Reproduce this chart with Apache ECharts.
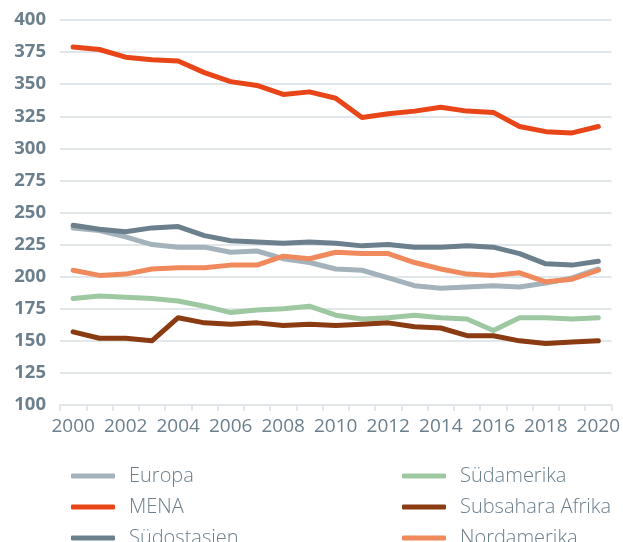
<!DOCTYPE html>
<html>
<head>
<meta charset="utf-8">
<script src="https://cdn.jsdelivr.net/npm/echarts@6/dist/echarts.min.js"></script>
<style>
  html, body { margin: 0; padding: 0; background: #ffffff; }
  #chart { width: 623px; height: 542px; }
</style>
</head>
<body>
<div id="chart"></div>
<script>
  // Jahre
  var years = ['2000','2001','2002','2003','2004','2005','2006','2007','2008','2009','2010',
               '2011','2012','2013','2014','2015','2016','2017','2018','2019','2020'];

  var europa      = [238, 236, 231, 225, 223, 223, 219, 220, 214, 211, 206, 205, 199, 193, 191, 192, 193, 192, 195, 199, 206];
  var mena        = [379, 377, 371, 369, 368, 359, 352, 349, 342, 344, 339, 324, 327, 329, 332, 329, 328, 317, 313, 312, 317];
  var suedostasien= [240, 237, 235, 238, 239, 232, 228, 227, 226, 227, 226, 224, 225, 223, 223, 224, 223, 218, 210, 209, 212];
  var suedamerika = [183, 185, 184, 183, 181, 177, 172, 174, 175, 177, 170, 167, 168, 170, 168, 167, 158, 168, 168, 167, 168];
  var subsahara   = [157, 152, 152, 150, 168, 164, 163, 164, 162, 163, 162, 163, 164, 161, 160, 154, 154, 150, 148, 149, 150];
  var nordamerika = [205, 201, 202, 206, 207, 207, 209, 209, 216, 214, 219, 218, 218, 211, 206, 202, 201, 203, 196, 198, 205];

  var textColor = '#6b7f8c';
  var gridColor = '#e2e7eb';

  var chart = echarts.init(document.getElementById('chart'));

  function line(name, data, color) {
    return {
      name: name,
      type: 'line',
      data: data,
      symbol: 'none',
      lineStyle: { width: 5, color: color, cap: 'round', join: 'round' },
      itemStyle: { color: color }
    };
  }

  var legendCommon = {
    orient: 'vertical',
    top: 466,
    height: 100,
    padding: 0,
    icon: 'roundRect',
    itemWidth: 44,
    itemHeight: 5,
    itemGap: 11,
    textStyle: {
      fontFamily: 'Open Sans', fontSize: 20, lineHeight: 20,
      color: textColor, fontWeight: 300, padding: [0, 0, 0, 9]
    }
  };

  var option = {
    backgroundColor: '#ffffff',
    animation: false,
    grid: { left: 60, right: 9, top: 20, bottom: 137 },
    legend: [
      Object.assign({ left: 71, data: ['Europa', 'MENA', 'Südostasien'] }, legendCommon),
      Object.assign({ left: 402, data: ['Südamerika', 'Subsahara Afrika', 'Nordamerika'] }, legendCommon)
    ],
    xAxis: {
      type: 'category',
      data: years,
      boundaryGap: true,
      axisLine: { lineStyle: { color: gridColor, width: 2 } },
      axisTick: { show: true, interval: 0, length: 6, lineStyle: { color: gridColor, width: 2 } },
      axisLabel: {
        interval: 1,
        margin: 12,
        fontFamily: 'Open Sans',
        fontSize: 19,
        color: textColor
      }
    },
    yAxis: {
      type: 'value',
      min: 100,
      max: 400,
      interval: 25,
      axisLine: { show: false },
      axisTick: { show: false },
      axisLabel: {
        margin: 14,
        fontFamily: 'Open Sans',
        fontSize: 18.5,
        fontWeight: 'bold',
        color: textColor
      },
      splitLine: { lineStyle: { color: gridColor, width: 2 } }
    },
    series: [
      line('Europa', europa, '#a3b2bb'),
      line('MENA', mena, '#e84618'),
      line('Südostasien', suedostasien, '#6b7f8c'),
      line('Südamerika', suedamerika, '#9dc8a2'),
      line('Subsahara Afrika', subsahara, '#8a3b12'),
      line('Nordamerika', nordamerika, '#f08a5d')
    ]
  };

  chart.setOption(option);
</script>
</body>
</html>
